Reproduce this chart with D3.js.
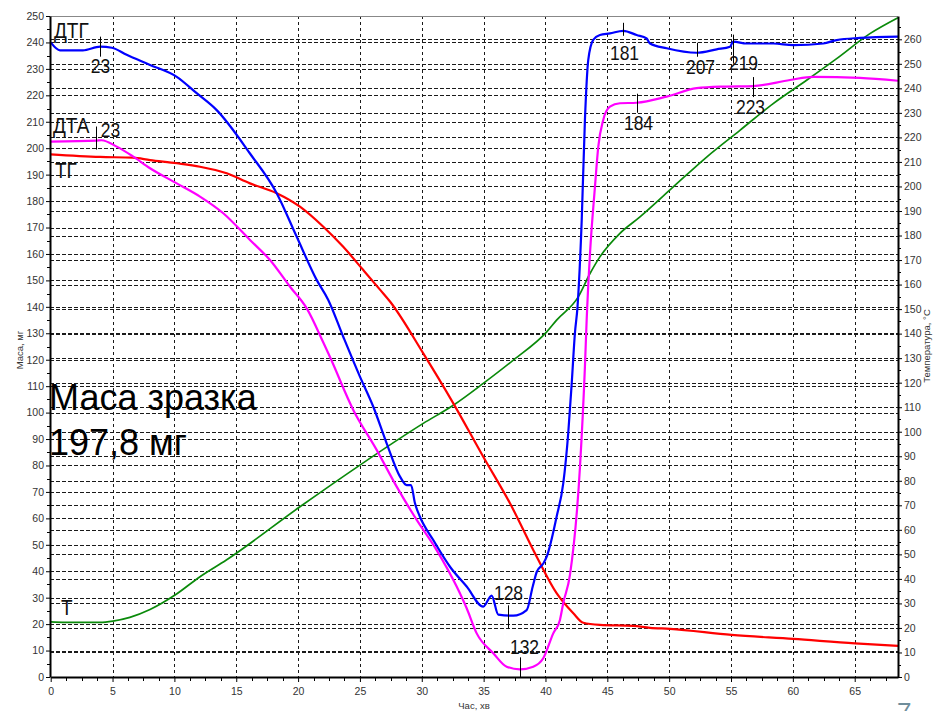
<!DOCTYPE html>
<html>
<head>
<meta charset="utf-8">
<script src="https://cdn.jsdelivr.net/npm/d3@7"></script>
<style>
  body { margin: 0; background: #fff; }
  svg { display: block; }
  text { font-family: Arial, "Liberation Sans", sans-serif; }
</style>
</head>
<body>
<svg id="chart" width="934" height="711"></svg>
<script>
// ---- Axis ticks ----
const timeTicks = [0, 5, 10, 15, 20, 25, 30, 35, 40, 45, 50, 55, 60, 65];
const massTicks = [0, 10, 20, 30, 40, 50, 60, 70, 80, 90, 100, 110, 120, 130, 140, 150, 160, 170, 180, 190, 200, 210, 220, 230, 240, 250];
const tempTicks = [0, 10, 20, 30, 40, 50, 60, 70, 80, 90, 100, 110, 120, 130, 140, 150, 160, 170, 180, 190, 200, 210, 220, 230, 240, 250, 260];

// ---- ТГ: sample mass, mg ----
const tgTime = [0, 3.99, 6.65, 8.03, 10.19, 12.07, 14.23, 16.11, 18.27, 20.15, 22.04, 23.65, 25.27, 26.62, 27.43, 30.12, 32.55, 34.97, 37.13, 39.29, 40.9, 42.25, 43.06, 44.4, 47.1, 48.45, 50.07, 55.05, 60.03, 65.02, 68.5];
const tgMass = [197.7, 196.7, 196.4, 195.5, 194.3, 193, 190.5, 186.7, 183, 177.9, 170.3, 162.7, 153.9, 146.5, 142, 122.4, 103.5, 83.3, 65.7, 45.5, 31.7, 24.1, 20.5, 19.7, 19.3, 18.6, 18.2, 15.9, 14.4, 12.7, 11.8];

// ---- Т: temperature, °C ----
const tTime = [0, 1.16, 3.98, 5.03, 6.4, 8.03, 10.05, 12.07, 14.2, 20.15, 25.0, 30.12, 32.55, 34.97, 37.4, 40.1, 40.9, 42.65, 43.6, 44.4, 46.0, 47.64, 50.33, 53.03, 55.72, 58.41, 61.11, 63.54, 66.23, 68.5];
const tTemp = [22.5, 22.3, 22.3, 22.8, 24.3, 27.5, 33.4, 40.9, 47.7, 69.4, 86.4, 103.4, 110.8, 119.7, 129.2, 140.7, 145.5, 155, 164.5, 171.3, 180.8, 187.6, 199.8, 212, 222.9, 233.8, 243.3, 252.1, 262.3, 268.8];

// ---- ДТГ signal (left scale units) ----
const dtgTime = [0, 0.75, 2.6, 4.0, 4.95, 6.14, 8.03, 10.19, 11.8, 13.42, 16.11, 18.27, 19.89, 21.5, 22.44, 23.65, 25.0, 26.08, 27.16, 28.24, 28.78, 29.13, 29.45, 29.85, 30.93, 32.28, 33.63, 34.97, 35.65, 36.18, 37.4, 38.48, 38.97, 39.3, 39.84, 40.1, 40.9, 41.44, 41.84, 42.12, 42.38, 42.59, 42.93, 43.19, 43.46, 43.86, 44.4, 45.21, 46.29, 47.37, 48.18, 48.45, 49.8, 52.22, 53.84, 54.92, 55.18, 56.27, 58.42, 60.03, 62.46, 63.54, 65.42, 68.5];
const dtgSignal = [240, 237, 237, 238.4, 238, 235.3, 231.5, 227, 220.8, 214.4, 198, 183, 166.5, 150.2, 142.6, 128.7, 113.6, 102.2, 88.4, 75.8, 72.6, 72.6, 65.7, 60.6, 51.8, 41.7, 34.2, 26.6, 30.8, 23.6, 23.2, 25.3, 34.2, 39.8, 43, 45.5, 60.6, 73.3, 92.2, 111, 130, 140, 172.8, 210.7, 233.4, 241, 242.8, 243.4, 244.4, 242.8, 241.5, 239.6, 237.8, 236.1, 237.4, 238.4, 240.3, 239.6, 239.6, 239, 239.6, 240.9, 241.7, 242.2];

// ---- ДТА signal (left scale units) ----
const dtaTime = [0, 3.74, 4.1, 5.34, 6.68, 8.03, 10.19, 12.07, 13.95, 16.11, 17.73, 19.35, 20.7, 22.04, 22.58, 24.46, 26.35, 27.97, 29.59, 31.2, 32.82, 33.63, 34.44, 35.78, 36.86, 37.93, 39.01, 39.82, 40.63, 41.17, 41.44, 41.98, 42.79, 43.19, 43.33, 43.6, 44.0, 44.27, 44.67, 45.21, 46.02, 47.37, 49.8, 52.22, 54.37, 56.8, 59.77, 61.65, 65.42, 68.5];
const dtaSignal = [202.5, 202.9, 203.0, 200.6, 196.8, 192.4, 186.7, 181.7, 175.4, 165.3, 157.7, 147.6, 139.4, 126.5, 121, 101, 85.9, 72, 59.4, 48, 34.2, 26, 16.5, 9, 3.9, 2.9, 3.9, 7.1, 16.5, 21.6, 28, 38.6, 79.5, 117.4, 135, 160.2, 185.4, 200.6, 210.7, 215.7, 217, 217.2, 219.5, 222.7, 223.3, 223.5, 225.8, 227, 226.6, 225.5];

// ---- Peak marks: label text and time (min) ----
const dtgPeakLabels = ["23", "128", "181", "207", "219"];
const dtgPeakTimes  = [4.0, 37.0, 46.29, 52.22, 55.18];
const dtaPeakLabels = ["23", "132", "184", "223"];
const dtaPeakTimes  = [3.7, 37.93, 47.37, 56.8];

// ---- Drawing ----
const svg = d3.select("#chart");
const P = { left: 50, right: 898, top: 16, bottom: 677 };

const x = d3.scaleLinear().domain([0, 68.5]).range([50.7, P.right]);
const yL = d3.scaleLinear().domain([0, 250]).range([P.bottom, P.top]);
const yR = d3.scaleLinear().domain([0, 269.5]).range([P.bottom, P.top]);

const crisp = v => Math.round(v) + 0.5;

// grid
const grid = svg.append("g").attr("stroke", "#1a1a1a").attr("stroke-width", 1).attr("fill", "none");
grid.selectAll("line.v").data(timeTicks.filter(t => t > 0)).join("line")
  .attr("x1", d => crisp(x(d))).attr("x2", d => crisp(x(d)))
  .attr("y1", P.top).attr("y2", P.bottom)
  .attr("stroke-dasharray", "3,3");
grid.selectAll("line.hl").data(massTicks.filter(v => v > 0 && v < 250)).join("line")
  .attr("x1", P.left).attr("x2", P.right)
  .attr("y1", d => crisp(yL(d))).attr("y2", d => crisp(yL(d)))
  .attr("stroke-dasharray", "4,2");
grid.selectAll("line.hr").data(tempTicks.filter(v => v > 0)).join("line")
  .attr("x1", P.left).attr("x2", P.right)
  .attr("y1", d => crisp(yR(d))).attr("y2", d => crisp(yR(d)))
  .attr("stroke-dasharray", "4,2");

// top frame
svg.append("line").attr("x1", P.left).attr("x2", P.right).attr("y1", P.top + 0.5).attr("y2", P.top + 0.5)
  .attr("stroke", "#888").attr("stroke-width", 1);

// sample mass caption
const cap = svg.append("g").attr("font-size", 36).attr("fill", "#000");
cap.append("text").attr("x", 49).attr("y", 410).text("Маса зразка");
cap.append("text").attr("x", 49).attr("y", 455).text("197,8 мг");

// curves
const mk = (ts, vs) => ts.map((t, i) => [t, vs[i]]);
const lineL = d3.line().x(d => x(d[0])).y(d => yL(d[1])).curve(d3.curveMonotoneX);
const lineR = d3.line().x(d => x(d[0])).y(d => yR(d[1])).curve(d3.curveMonotoneX);

svg.append("path").attr("d", lineR(mk(tTime, tTemp)))
  .attr("fill", "none").attr("stroke", "#0a8a0a").attr("stroke-width", 1.7);
svg.append("path").attr("d", lineL(mk(tgTime, tgMass)))
  .attr("fill", "none").attr("stroke", "#ff0000").attr("stroke-width", 2.2);
svg.append("path").attr("d", lineL(mk(dtaTime, dtaSignal)))
  .attr("fill", "none").attr("stroke", "#ff00ff").attr("stroke-width", 2.2);
svg.append("path").attr("d", lineL(mk(dtgTime, dtgSignal)))
  .attr("fill", "none").attr("stroke", "#0000ff").attr("stroke-width", 2.2);

// axes
function styleAxis(g) {
  g.attr("font-family", null).attr("font-size", null);
  g.select(".domain").attr("stroke", "#000").attr("stroke-width", 2);
  g.selectAll(".tick line").attr("stroke", "#000");
  g.selectAll(".tick text").attr("font-size", 10.5).attr("fill", "#333");
}
svg.append("g").attr("transform", `translate(${P.left},0)`)
  .call(d3.axisLeft(yL).tickValues(massTicks).tickSize(4).tickSizeOuter(0).tickPadding(2))
  .call(styleAxis);
svg.append("g").attr("transform", `translate(${P.right},0)`)
  .call(d3.axisRight(yR).tickValues(tempTicks).tickSize(4).tickSizeOuter(0).tickPadding(2))
  .call(styleAxis);
svg.append("g").attr("transform", `translate(0,${P.bottom})`)
  .call(d3.axisBottom(x).tickValues(timeTicks).tickSize(5).tickSizeOuter(0).tickPadding(6))
  .call(styleAxis);

// minor ticks
const minor = svg.append("g").attr("stroke", "#000").attr("stroke-width", 1);
minor.selectAll("line.mx").data(d3.range(1.25, 68.5, 1.25).filter(t => t % 5 !== 0)).join("line")
  .attr("x1", d => crisp(x(d))).attr("x2", d => crisp(x(d))).attr("y1", P.bottom).attr("y2", P.bottom + 4);
minor.selectAll("line.ml").data(d3.range(5, 250, 10)).join("line")
  .attr("x1", P.left - 3).attr("x2", P.left).attr("y1", d => crisp(yL(d))).attr("y2", d => crisp(yL(d)));
minor.selectAll("line.mr").data(d3.range(5, 269, 10)).join("line")
  .attr("x1", P.right).attr("x2", P.right + 3).attr("y1", d => crisp(yR(d))).attr("y2", d => crisp(yR(d)));

// axis titles
const titles = svg.append("g").attr("font-size", 9.5).attr("fill", "#333").attr("text-anchor", "middle");
titles.append("text").attr("transform", "translate(23,350) rotate(-90)").text("Маса, мг");
titles.append("text").attr("x", 474).attr("y", 709).text("Час, хв");
titles.append("text").attr("transform", "translate(930,346) rotate(-90)").text("Температура, °С");

// labels drawn slightly tall, like the rest of the instrument printout
function tallText(g, px, py, txt, size, anchor, sy) {
  return g.append("text")
    .attr("transform", `translate(${px},${py}) scale(1,${sy})`)
    .attr("text-anchor", anchor).attr("font-size", size).attr("fill", "#111").text(txt);
}

// series names
const names = svg.append("g");
tallText(names, 54, 38, "ДТГ", 19, "start", 1.15);
tallText(names, 53, 133, "ДТА", 19, "start", 1.15);
tallText(names, 55, 178, "ТГ", 19, "start", 1.15);
tallText(names, 61, 615, "Т", 19, "start", 1.15);

// peak marks
function valueAt(ts, vs, t) {
  const i = Math.max(1, Math.min(ts.length - 1, d3.bisectLeft(ts, t)));
  const f = (t - ts[i - 1]) / (ts[i] - ts[i - 1]);
  return vs[i - 1] + f * (vs[i] - vs[i - 1]);
}
// [tick up, tick down, label dx, label baseline offset]
const dtgMarkLayout = [[10, 10, 0, 26], [10, 13, 0, -15], [8, 5, 1, 29], [10, 4, 3, 21], [7, 22, 10, 28]];
const dtaMarkLayout = [[14, 9, 14, -4], [12, 8, 4, -15], [9, 10, 1, 27], [9, 11, -3, 27.5]];

const marks = svg.append("g");
function drawMarks(labels, times, ts, vs, layout) {
  labels.forEach((lab, i) => {
    const px = crisp(x(times[i]));
    const py = yL(valueAt(ts, vs, times[i]));
    const [up, down, dx, dy] = layout[i];
    marks.append("line").attr("x1", px).attr("x2", px)
      .attr("y1", py - up).attr("y2", Math.min(P.bottom, py + down))
      .attr("stroke", "#000").attr("stroke-width", 1);
    tallText(marks, px + dx, py + dy, lab, 17.5, "middle", 1.12);
  });
}
drawMarks(dtgPeakLabels, dtgPeakTimes, dtgTime, dtgSignal, dtgMarkLayout);
drawMarks(dtaPeakLabels, dtaPeakTimes, dtaTime, dtaSignal, dtaMarkLayout);

// page number
svg.append("text").attr("x", 897).attr("y", 721).attr("font-size", 26).attr("fill", "#6f8d9b").text("7");
</script>
</body>
</html>
